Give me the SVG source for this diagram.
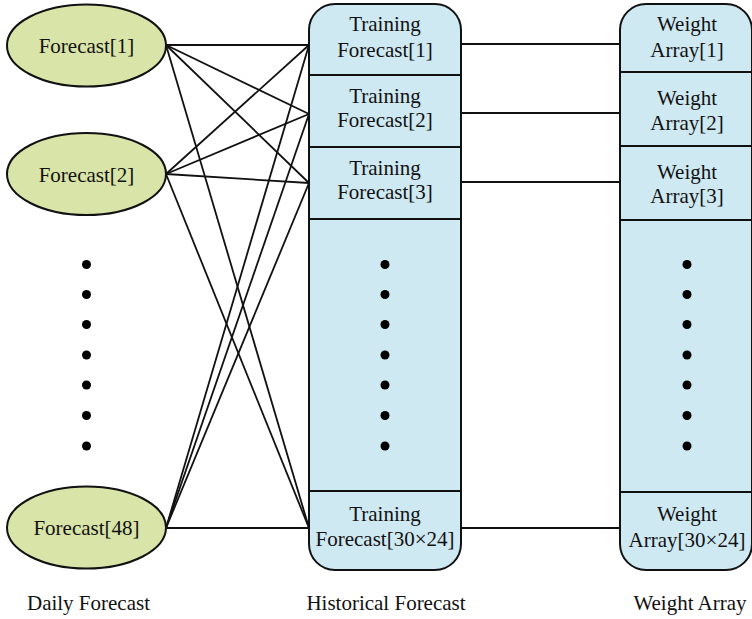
<svg xmlns="http://www.w3.org/2000/svg" width="752" height="619" viewBox="0 0 752 619">
<style>
text{font-family:"Liberation Serif","Times New Roman",serif;font-size:21px;fill:#111;text-anchor:middle}
.ell{fill:#d9e4a8;stroke:#111;stroke-width:2}
.col{fill:#cfe9f2;stroke:#111;stroke-width:2}
.div{stroke:#111;stroke-width:2}
.conn line{stroke:#111;stroke-width:1.8}
.dot{fill:#000}
</style>
<rect width="752" height="619" fill="#fff"/>
<g class="conn" id="connectors">
<line x1="166" y1="45" x2="309" y2="45"/>
<line x1="166" y1="45" x2="309" y2="114"/>
<line x1="166" y1="45" x2="309" y2="183"/>
<line x1="166" y1="45" x2="309" y2="528"/>
<line x1="166" y1="174" x2="309" y2="45"/>
<line x1="166" y1="174" x2="309" y2="114"/>
<line x1="166" y1="174" x2="309" y2="183"/>
<line x1="166" y1="174" x2="309" y2="528"/>
<line x1="166" y1="528" x2="309" y2="45"/>
<line x1="166" y1="528" x2="309" y2="114"/>
<line x1="166" y1="528" x2="309" y2="183"/>
<line x1="166" y1="528" x2="309" y2="528"/>
<line x1="461" y1="44" x2="620" y2="44"/>
<line x1="461" y1="113" x2="620" y2="113"/>
<line x1="461" y1="182" x2="620" y2="182"/>
<line x1="461" y1="528" x2="620" y2="528"/>
</g>
<g id="forecast1"><ellipse class="ell" cx="86.5" cy="45.5" rx="79.5" ry="41"/><text x="86.5" y="52.5">Forecast[1]</text></g>
<g id="forecast2"><ellipse class="ell" cx="86.5" cy="174" rx="79.5" ry="41"/><text x="86.5" y="181.5">Forecast[2]</text></g>
<g id="forecast48"><ellipse class="ell" cx="86.5" cy="527.5" rx="79.5" ry="41"/><text x="86.5" y="535">Forecast[48]</text></g>
<g id="dots1" class="dot">
<circle cx="86.5" cy="264.5" r="4.5"/><circle cx="86.5" cy="294.5" r="4.5"/><circle cx="86.5" cy="324.5" r="4.5"/><circle cx="86.5" cy="355" r="4.5"/><circle cx="86.5" cy="385" r="4.5"/><circle cx="86.5" cy="415.5" r="4.5"/><circle cx="86.5" cy="446" r="4.5"/>
</g>
<g id="historical">
<rect class="col" x="309" y="4" width="152" height="566" rx="26" ry="26"/>
<line class="div" x1="309" y1="75" x2="461" y2="75"/>
<line class="div" x1="309" y1="147" x2="461" y2="147"/>
<line class="div" x1="309" y1="219" x2="461" y2="219"/>
<line class="div" x1="309" y1="491" x2="461" y2="491"/>
</g>
<g id="training1"><text x="385" y="31">Training</text><text x="385" y="57">Forecast[1]</text></g>
<g id="training2"><text x="385" y="103">Training</text><text x="385" y="127">Forecast[2]</text></g>
<g id="training3"><text x="385" y="175">Training</text><text x="385" y="199">Forecast[3]</text></g>
<g id="dots2" class="dot">
<circle cx="385" cy="264.5" r="4.5"/><circle cx="385" cy="294.5" r="4.5"/><circle cx="385" cy="324.5" r="4.5"/><circle cx="385" cy="355" r="4.5"/><circle cx="385" cy="385" r="4.5"/><circle cx="385" cy="415.5" r="4.5"/><circle cx="385" cy="446" r="4.5"/>
</g>
<g id="trainingN"><text x="385" y="521">Training</text><text x="385" y="546">Forecast[30×24]</text></g>
<g id="weightcol">
<rect class="col" x="620" y="4" width="132" height="566" rx="26" ry="26"/>
<line class="div" x1="620" y1="72" x2="752" y2="72"/>
<line class="div" x1="620" y1="146" x2="752" y2="146"/>
<line class="div" x1="620" y1="220" x2="752" y2="220"/>
<line class="div" x1="620" y1="492" x2="752" y2="492"/>
</g>
<g id="weight1"><text x="687" y="31">Weight</text><text x="687" y="57">Array[1]</text></g>
<g id="weight2"><text x="687" y="105">Weight</text><text x="687" y="130">Array[2]</text></g>
<g id="weight3"><text x="687" y="179">Weight</text><text x="687" y="203">Array[3]</text></g>
<g id="dots3" class="dot">
<circle cx="687" cy="264.5" r="4.5"/><circle cx="687" cy="294.5" r="4.5"/><circle cx="687" cy="324.5" r="4.5"/><circle cx="687" cy="355" r="4.5"/><circle cx="687" cy="385" r="4.5"/><circle cx="687" cy="415.5" r="4.5"/><circle cx="687" cy="446" r="4.5"/>
</g>
<g id="weightN"><text x="687" y="521">Weight</text><text x="687" y="547">Array[30×24]</text></g>
<g id="labels">
<text x="88.5" y="610">Daily Forecast</text>
<text x="386" y="610">Historical Forecast</text>
<text x="690" y="610">Weight Array</text>
</g>
</svg>
